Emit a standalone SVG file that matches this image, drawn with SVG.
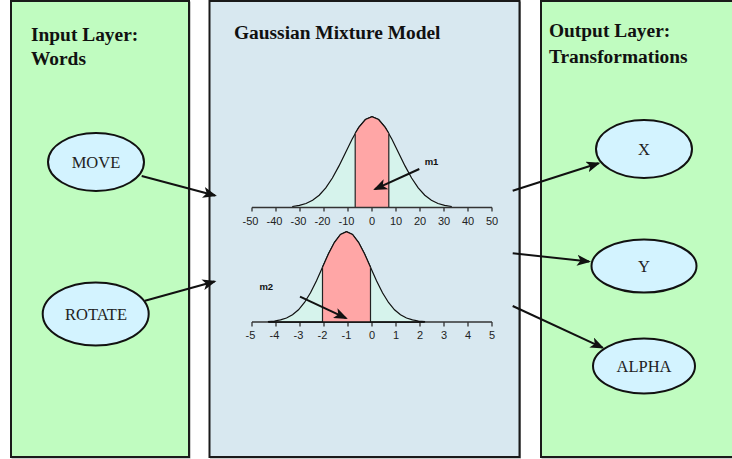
<svg xmlns="http://www.w3.org/2000/svg" width="732" height="459" viewBox="0 0 732 459">
<style>
.panel{stroke:#1a1a1a;stroke-width:2}
.shadow{fill:none;stroke:#9a9a9a;stroke-width:1}
.title{font-family:"Liberation Serif","Times New Roman",serif;font-weight:bold;font-size:19.4px;fill:#111}
.node{fill:#d3f3ff;stroke:#111;stroke-width:2}
.nlabel{font-family:"Liberation Serif","Times New Roman",serif;font-size:16.5px;fill:#222;text-anchor:middle}
.edge{stroke:#111;stroke-width:2;fill:none;marker-end:url(#ah)}
.tick{font-family:"Liberation Sans",Arial,sans-serif;font-size:11px;fill:#222;text-anchor:middle}
.ml{font-family:"Liberation Sans",Arial,sans-serif;font-size:9.5px;font-weight:bold;fill:#111;text-anchor:middle}
.curve{fill:#d6f3ec;stroke:#111;stroke-width:1.2}
.red{fill:#ffa6a6;stroke:none}
.edgeline{stroke:#222;stroke-width:1.2}
.axis{stroke:#333;stroke-width:1.3;fill:none}
</style>
<defs>
<marker id="ah" viewBox="0 0 14 11" refX="12" refY="5.5" markerWidth="14" markerHeight="11" markerUnits="userSpaceOnUse" orient="auto">
<path d="M0,0 L14,5.5 L0,11 L3.5,5.5 Z" fill="#111"/>
</marker>
</defs>
<rect width="732" height="459" fill="#ffffff"/>

<g id="input-layer">
<rect class="shadow" x="12" y="2" width="178" height="456"/>
<rect class="panel" x="11" y="1" width="178" height="456" fill="#c0fcc0"/>
<text class="title" x="31" y="41">Input Layer:</text>
<text class="title" x="31" y="65">Words</text>
</g>

<g id="gmm">
<rect class="shadow" x="210.5" y="2" width="310" height="456"/>
<rect class="panel" x="209.5" y="1" width="310" height="456" fill="#d8e8f0"/>
<text class="title" x="234" y="39">Gaussian Mixture Model</text>

<g id="gauss1">
<path class="curve" d="M292.8,207.5 L292.8,206.5 L299.4,205.4 L306,203.5 L312.6,200.3 L319.2,195.2 L325.8,187.9 L332.4,178 L339,165.9 L345.6,152.4 L352.2,139 L358.8,127.4 L365.4,119.5 L372,116.7 L378.6,119.5 L385.2,127.4 L391.8,139 L398.4,152.4 L405,165.9 L411.6,178 L418.2,187.9 L424.8,195.2 L431.4,200.3 L438,203.5 L444.6,205.4 L451.2,206.5 L451.2,207.5 Z"/>
<path class="red" d="M355.2,207.5 L355.2,133.3 L358.8,127.4 L365.4,119.5 L372,116.7 L378.6,119.5 L385.2,127.4 L388.8,133.3 L388.8,207.5 Z"/>
<path d="M355.2,133.3 L358.8,127.4 L365.4,119.5 L372,116.7 L378.6,119.5 L385.2,127.4 L388.8,133.3" fill="none" stroke="#111" stroke-width="1.2"/>
<line class="edgeline" x1="355.2" y1="133.3" x2="355.2" y2="207.5" stroke="#555"/>
<line class="edgeline" x1="388.8" y1="133.3" x2="388.8" y2="207.5"/>
<path class="axis" d="M252,207.5 H492 M252,207.5 v4 M276,207.5 v4 M300,207.5 v4 M324,207.5 v4 M348,207.5 v4 M372,207.5 v4 M396,207.5 v4 M420,207.5 v4 M444,207.5 v4 M468,207.5 v4 M492,207.5 v4"/>
<text class="tick" x="250.5" y="225">-50</text>
<text class="tick" x="274.5" y="225">-40</text>
<text class="tick" x="298.5" y="225">-30</text>
<text class="tick" x="322.5" y="225">-20</text>
<text class="tick" x="346.5" y="225">-10</text>
<text class="tick" x="372" y="225">0</text>
<text class="tick" x="396" y="225">10</text>
<text class="tick" x="420" y="225">20</text>
<text class="tick" x="444" y="225">30</text>
<text class="tick" x="468" y="225">40</text>
<text class="tick" x="492" y="225">50</text>
<text class="ml" x="431.5" y="165">m1</text>
<line x1="419.3" y1="169" x2="375" y2="189.2" stroke="#111" stroke-width="2" marker-end="url(#ah)"/>
</g>

<g id="gauss2">
<path class="axis" d="M252,322 H492 M252,322 v4.5 M276,322 v4.5 M300,322 v4.5 M324,322 v4.5 M348,322 v4.5 M372,322 v4.5 M396,322 v4.5 M420,322 v4.5 M444,322 v4.5 M468,322 v4.5 M492,322 v4.5" stroke="#555"/>
<path class="curve" d="M268.5,322 L268.5,321.5 L274.5,321 L280.5,319.9 L286.5,318 L292.5,314.8 L298.5,309.8 L304.5,302.5 L310.5,292.7 L316.5,280.7 L322.5,267.2 L328.5,253.8 L334.5,242.3 L340.5,234.5 L346.5,231.7 L352.5,234.5 L358.5,242.3 L364.5,253.8 L370.5,267.2 L376.5,280.7 L382.5,292.7 L388.5,302.5 L394.5,309.8 L400.5,314.8 L406.5,318 L412.5,319.9 L418.5,321 L424.5,321.5 L424.5,322 Z"/>
<path class="red" d="M322.5,322 L322.5,267.2 L328.5,253.8 L334.5,242.3 L340.5,234.5 L346.5,231.7 L352.5,234.5 L358.5,242.3 L364.5,253.8 L370.5,267.2 L370.5,322 Z"/>
<path d="M322.5,267.2 L328.5,253.8 L334.5,242.3 L340.5,234.5 L346.5,231.7 L352.5,234.5 L358.5,242.3 L364.5,253.8 L370.5,267.2" fill="none" stroke="#111" stroke-width="1.2"/>
<line class="edgeline" x1="322.5" y1="267.2" x2="322.5" y2="322"/>
<line class="edgeline" x1="370.5" y1="267.2" x2="370.5" y2="322"/>
<line x1="268.5" y1="322" x2="424.5" y2="322" stroke="#111" stroke-width="1.5"/>
<text class="tick" x="250.5" y="339">-5</text>
<text class="tick" x="274.5" y="339">-4</text>
<text class="tick" x="298.5" y="339">-3</text>
<text class="tick" x="322.5" y="339">-2</text>
<text class="tick" x="346.5" y="339">-1</text>
<text class="tick" x="372" y="339">0</text>
<text class="tick" x="396" y="339">1</text>
<text class="tick" x="420" y="339">2</text>
<text class="tick" x="444" y="339">3</text>
<text class="tick" x="468" y="339">4</text>
<text class="tick" x="492" y="339">5</text>
<text class="ml" x="266.3" y="289.5">m2</text>
<line x1="300" y1="296.7" x2="346" y2="318.2" stroke="#111" stroke-width="2" marker-end="url(#ah)"/>
</g>
</g>

<g id="output-layer">
<rect class="shadow" x="542" y="2" width="200" height="456"/>
<rect class="panel" x="541" y="1" width="200" height="456" fill="#c0fcc0"/>
<text class="title" x="549" y="37">Output Layer:</text>
<text class="title" x="549" y="63">Transformations</text>
</g>

<g id="node-move">
<ellipse class="node" cx="96" cy="162" rx="48" ry="29"/>
<text class="nlabel" x="96" y="168">MOVE</text>
</g>
<g id="node-rotate">
<ellipse class="node" cx="95.7" cy="314" rx="53" ry="31.5"/>
<text class="nlabel" x="96" y="319.5">ROTATE</text>
</g>
<g id="node-x">
<ellipse class="node" cx="644" cy="149" rx="48" ry="29"/>
<text class="nlabel" x="644" y="155">X</text>
</g>
<g id="node-y">
<ellipse class="node" cx="644" cy="266" rx="52.5" ry="26.5"/>
<text class="nlabel" x="644" y="271.5">Y</text>
</g>
<g id="node-alpha">
<ellipse class="node" cx="644" cy="366" rx="51" ry="27.5"/>
<text class="nlabel" x="644" y="371.5">ALPHA</text>
</g>

<g id="connectors">
<line class="edge" x1="141.7" y1="176" x2="215" y2="195.5"/>
<line class="edge" x1="145" y1="300.7" x2="214.5" y2="281.5"/>
<line class="edge" x1="512.7" y1="190.7" x2="598.5" y2="163.3"/>
<line class="edge" x1="512.7" y1="253.3" x2="589" y2="261.5"/>
<line class="edge" x1="512.7" y1="306" x2="602.5" y2="347.6"/>
</g>
</svg>
